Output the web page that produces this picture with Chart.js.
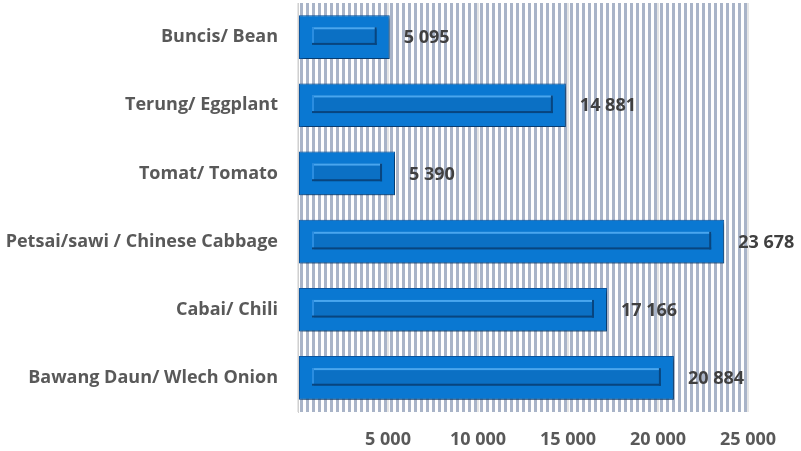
<!DOCTYPE html>
<html>
<head>
<meta charset="utf-8">
<script src="https://cdn.jsdelivr.net/npm/chart.js@4/dist/chart.umd.min.js"></script>
<style>
html,body{margin:0;padding:0;background:#fff;}
#wrap{width:801px;height:451px;position:relative;}
</style>
</head>
<body>
<div id="wrap"><canvas id="c" width="801" height="451"></canvas></div>
<script>
const categories = ["Buncis/ Bean", "Terung/ Eggplant", "Tomat/ Tomato", "Petsai/sawi / Chinese Cabbage", "Cabai/ Chili", "Bawang Daun/ Wlech Onion"];
const values = [5095, 14881, 5390, 23678, 17166, 20884];
const xTicks = [0, 5000, 10000, 15000, 20000, 25000];

const FONT = "'Open Sans'";
function fmt(v){ return String(v).replace(/\B(?=(\d{3})+(?!\d))/g, " "); }

const stripes = {
  id: 'stripes',
  beforeDraw(chart){
    const {ctx, chartArea:a} = chart;
    ctx.save();
    ctx.fillStyle = '#ffffff';
    ctx.fillRect(a.left, a.top, a.right - a.left, a.bottom - a.top);
    ctx.fillStyle = '#a9b4c8';
    for (let x = a.left + 2; x < a.right; x += 6) {
      ctx.fillRect(x, a.top, Math.min(3, a.right - x), a.bottom - a.top);
    }
    ctx.restore();
  }
};

const barFx = {
  id: 'barFx',
  beforeDatasetDraw(chart){
    const ctx = chart.ctx;
    ctx.save();
    ctx.shadowColor = 'rgba(0,0,0,0.45)';
    ctx.shadowBlur = 4;
    ctx.shadowOffsetX = 2;
    ctx.shadowOffsetY = 2;
  },
  afterDatasetDraw(chart){
    const ctx = chart.ctx;
    ctx.restore();
    const meta = chart.getDatasetMeta(0);
    ctx.save();
    meta.data.forEach((bar, i) => {
      const p = bar.getProps(['x','y','base','height'], true);
      const top = p.y - p.height/2, bot = p.y + p.height/2;
      const l = p.base + 13, r = p.x - 13, t = top + 12, b = bot - 14;
      if (r <= l) return;
      ctx.fillStyle = '#0b70c4';
      ctx.fillRect(l, t, r - l, b - t);
      ctx.fillStyle = '#4aa6ee';
      ctx.fillRect(l, t, r - l, 2);
      ctx.fillStyle = '#2b8de0';
      ctx.fillRect(l, t, 2, b - t);
      ctx.fillStyle = '#08457f';
      ctx.fillRect(l, b - 2, r - l, 2);
      ctx.fillRect(r - 2, t, 2, b - t);
      ctx.fillStyle = '#404040';
      ctx.font = 'bold 18px ' + FONT;
      ctx.textAlign = 'left';
      ctx.textBaseline = 'middle';
      ctx.fillText(fmt(values[i]), p.x + 14, p.y + 1);
    });
    ctx.restore();
  }
};

new Chart(document.getElementById('c'), {
  type: 'bar',
  data: {
    labels: categories,
    datasets: [{
      data: values,
      backgroundColor: '#0a78d2',
      borderColor: '#0b5aa8',
      borderWidth: 1,
      borderSkipped: false,
      categoryPercentage: 1,
      barPercentage: 0.64
    }]
  },
  options: {
    indexAxis: 'y',
    responsive: false,
    animation: false,
    events: [],
    layout: { padding: { top: 3, right: 53, left: 0, bottom: 0 } },
    plugins: { legend: { display: false }, tooltip: { enabled: false } },
    scales: {
      x: {
        min: 0, max: 25000,
        afterBuildTicks(scale){ scale.ticks = xTicks.map(v => ({value: v})); },
        afterFit(scale){ scale.height = 39; scale.paddingLeft = 0; scale.paddingRight = 0; scale.paddingTop = 0; scale.paddingBottom = 0; },
        grid: { color: '#e6e6e6', lineWidth: 2, drawTicks: false },
        border: { display: false },
        ticks: {
          padding: 17,
          color: '#595959',
          font: { family: FONT, size: 18, weight: 'bold' },
          callback: v => v === 0 ? '' : fmt(v)
        }
      },
      y: {
        afterFit(scale){ scale.width = 298; scale.paddingTop = 0; scale.paddingBottom = 0; scale.paddingLeft = 0; scale.paddingRight = 0; },
        grid: { display: false, drawTicks: false },
        border: { display: true, color: '#d0d0d0', width: 1 },
        ticks: {
          padding: 20,
          color: '#595959',
          font: { family: FONT, size: 18, weight: 'bold' }
        }
      }
    }
  },
  plugins: [stripes, barFx]
});
</script>
</body>
</html>
